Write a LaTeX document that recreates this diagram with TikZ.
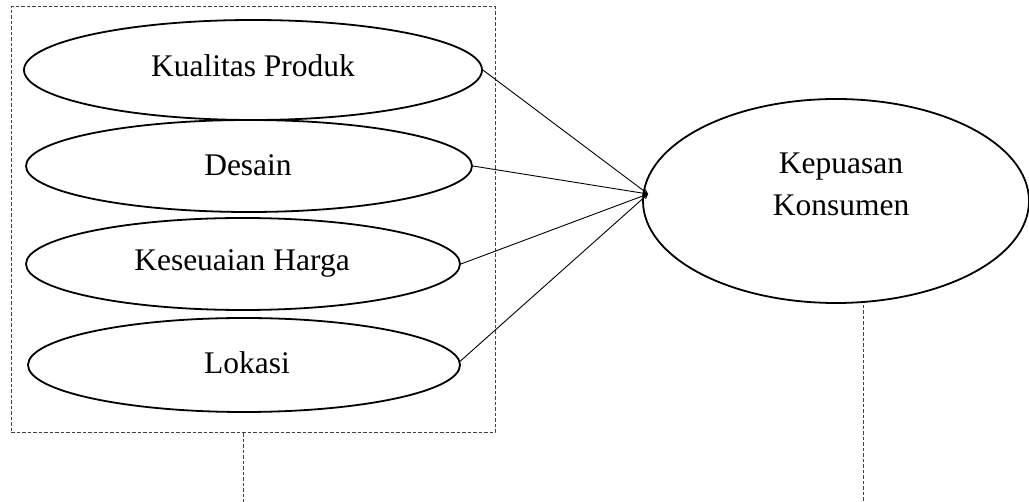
\documentclass[tikz,border=0pt]{standalone}
\usepackage{fontspec}
\setmainfont{Liberation Serif}
\usetikzlibrary{shapes.geometric,arrows.meta}
\begin{document}
\begin{tikzpicture}[x=1pt,y=-1pt,
  oval/.style={draw,line width=1.8pt,ellipse,inner sep=0pt},
  lbl/.style={font=\fontsize{31.5}{42}\selectfont,align=center,inner sep=0pt},
  conn/.style={line width=0.9pt,-{Straight Barb[length=4pt,width=4pt]}},
  frame/.style={draw=black!75,line width=1pt,dash pattern=on 3.5pt off 2pt}]
\useasboundingbox (0,0) rectangle (1029,502);
\fill[white] (0,0) rectangle (1029,502);
% dashed frame
\node[frame,minimum width=484pt,minimum height=426pt,inner sep=0pt] (box) at (253,220) {};
% ellipses
\node[oval,minimum width=458pt,minimum height=100pt] (e1) at (253,70) {};
\node[oval,minimum width=446pt,minimum height=92pt] (e2) at (249,166) {};
\node[oval,minimum width=434pt,minimum height=92pt] (e3) at (243,264) {};
\node[oval,minimum width=432pt,minimum height=94pt] (e4) at (244,365) {};
\node[oval,minimum width=386pt,minimum height=204pt] (k) at (836,201) {};
% labels
\node[lbl] (t1) at (253,66) {Kualitas Produk};
\node[lbl] (t2) at (248,165) {Desain};
\node[lbl] (t3) at (242,263) {Keseuaian Harga};
\node[lbl] (t4) at (247,363) {Lokasi};
\node[lbl] (tk) at (841,184) {Kepuasan\\Konsumen};
% connectors
\coordinate (hub) at (648,194);
\draw[conn] (e1.east) -- (hub);
\draw[conn] (e2.east) -- (hub);
\draw[conn] (e3.east) -- (hub);
\draw[conn] (e4.1.2) -- (hub);
% dashed stubs
\coordinate (b1) at (243,502);
\coordinate (k0) at (863,305);
\coordinate (k1) at (863,502);
\draw[frame] (box.south -| b1) -- (b1);
\draw[frame] (k0) -- (k1);
\end{tikzpicture}
\end{document}
